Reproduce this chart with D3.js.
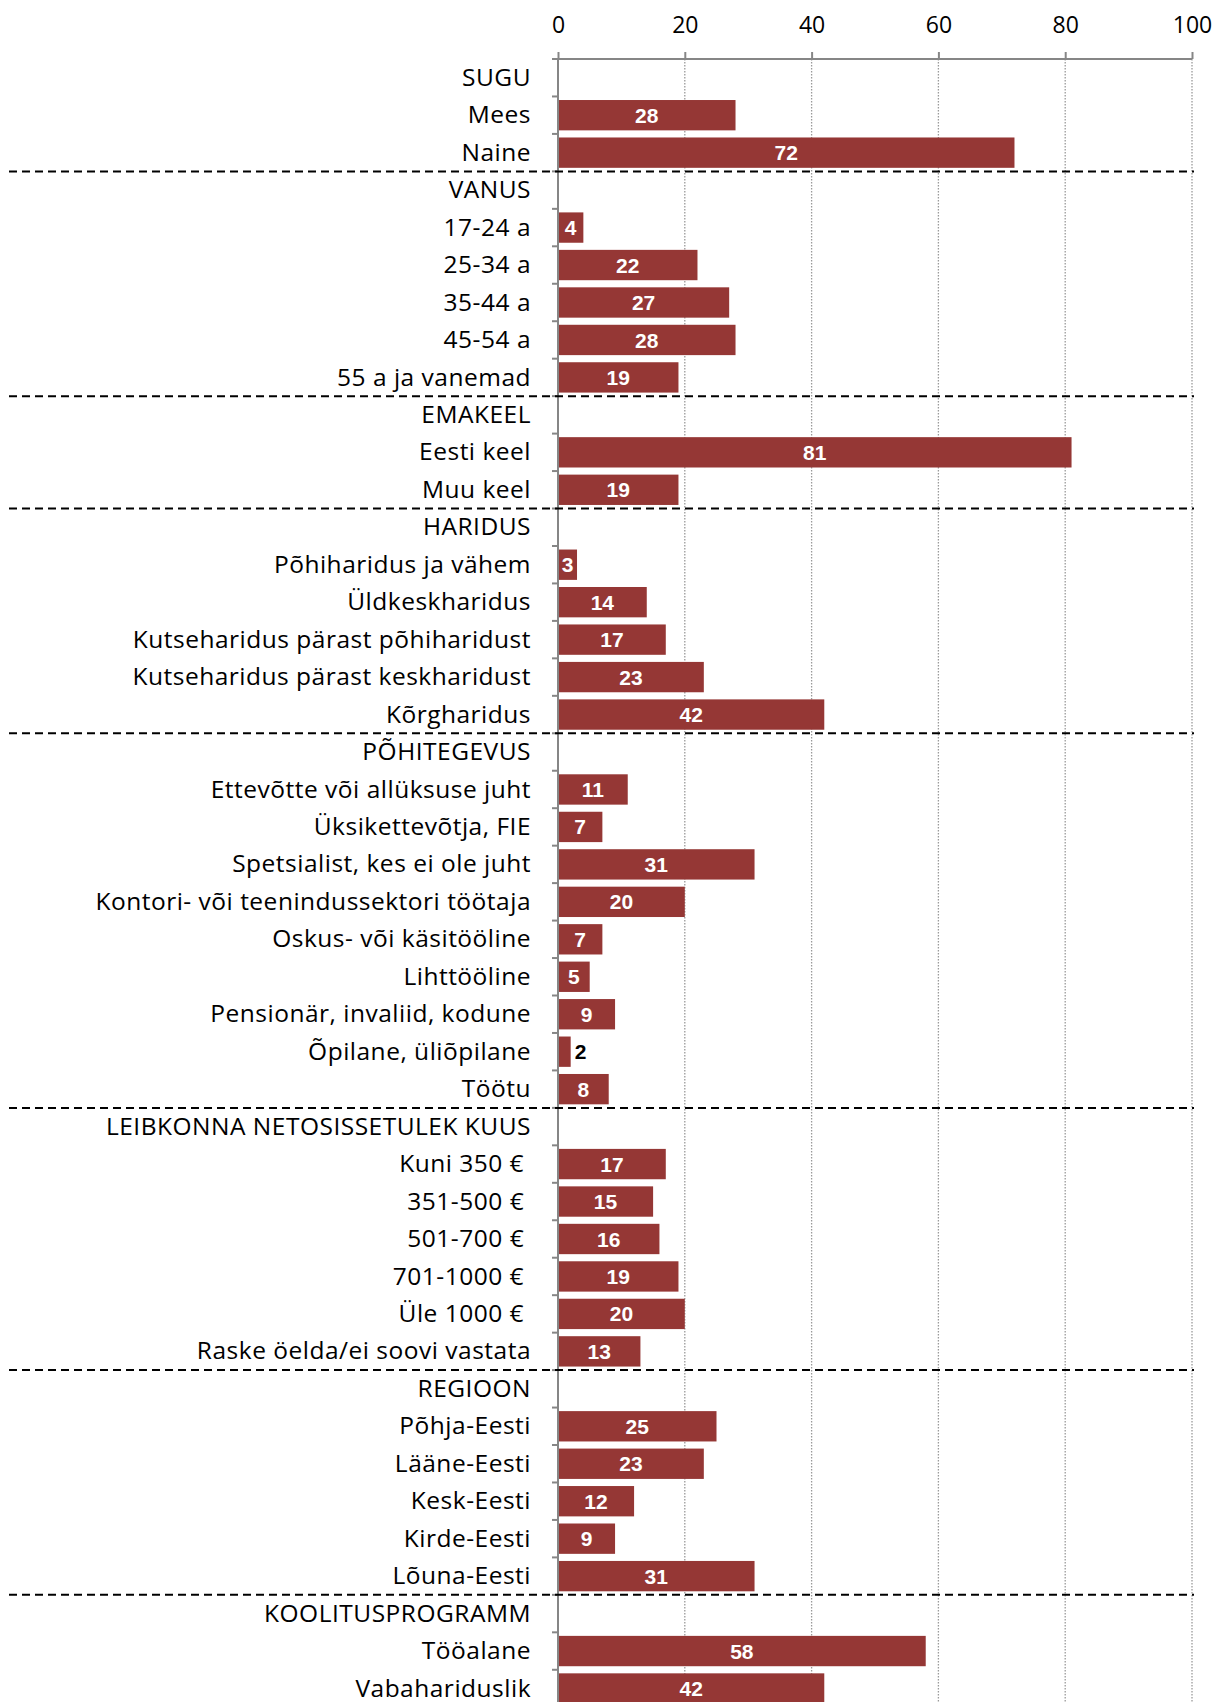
<!DOCTYPE html>
<html lang="et">
<head>
<meta charset="utf-8">
<title>Vastajate profiil</title>
<script src="https://d3js.org/d3.v7.min.js"></script>
<style>
  body { margin: 0; background: #fff; }
  #chart1 svg { display: block; }
  .cat-label { font-family: "Open Sans", "Noto Sans", sans-serif; font-size: 24.5px; letter-spacing: 0.5px; fill: #000; }
  .tick-label { font-family: "Open Sans", "Noto Sans", sans-serif; font-size: 23px; fill: #000; }
  .val-label { font-family: "Liberation Sans", Arial, sans-serif; font-size: 21px; font-weight: bold; }
</style>
</head>
<body>
<div id="chart1"></div>
<script>
// categories, top to bottom (group headers have no value)
const categories = [
  "SUGU", "Mees", "Naine",
  "VANUS", "17-24 a", "25-34 a", "35-44 a", "45-54 a", "55 a ja vanemad",
  "EMAKEEL", "Eesti keel", "Muu keel",
  "HARIDUS", "Põhiharidus ja vähem", "Üldkeskharidus", "Kutseharidus pärast põhiharidust",
  "Kutseharidus pärast keskharidust", "Kõrgharidus",
  "PÕHITEGEVUS", "Ettevõtte või allüksuse juht", "Üksikettevõtja, FIE", "Spetsialist, kes ei ole juht",
  "Kontori- või teenindussektori töötaja", "Oskus- või käsitööline", "Lihttööline",
  "Pensionär, invaliid, kodune", "Õpilane, üliõpilane", "Töötu",
  "LEIBKONNA NETOSISSETULEK KUUS", "Kuni 350 € ", "351-500 € ", "501-700 € ", "701-1000 € ",
  "Üle 1000 € ", "Raske öelda/ei soovi vastata",
  "REGIOON", "Põhja-Eesti", "Lääne-Eesti", "Kesk-Eesti", "Kirde-Eesti", "Lõuna-Eesti",
  "KOOLITUSPROGRAMM", "Tööalane", "Vabahariduslik"
];

const values = [
  null, 28, 72,
  null, 4, 22, 27, 28, 19,
  null, 81, 19,
  null, 3, 14, 17, 23, 42,
  null, 11, 7, 31, 20, 7, 5, 9, 2, 8,
  null, 17, 15, 16, 19, 20, 13,
  null, 25, 23, 12, 9, 31,
  null, 58, 42
];

const xTicks = [0, 20, 40, 60, 80, 100];

const data = categories.map((c, i) => ({ name: c, value: values[i] }));
const headerIdx = data.map((d, i) => d.value === null ? i : -1).filter(i => i > 0);

const margin = { top: 59, left: 558 };
const width = 634;
const rowH = 37.46;
const height = rowH * categories.length;

const svgRoot = d3.select("#chart1").append("svg")
  .attr("width", 1220)
  .attr("height", 1702);

const svg = svgRoot.append("g")
  .attr("transform", "translate(" + margin.left + "," + margin.top + ")");

const x = d3.scaleLinear().domain([0, 100]).range([0, width]);
const y = d3.scaleBand().domain(categories).range([0, height])
  .paddingInner(0.19).paddingOuter(0.095);

// gridlines (dotted)
svg.append("g").selectAll("line")
  .data(xTicks.filter(t => t > 0))
  .join("line")
  .attr("x1", d => x(d)).attr("x2", d => x(d))
  .attr("y1", 0).attr("y2", height)
  .attr("stroke", "#9a9a9a")
  .attr("stroke-width", 1.3)
  .attr("stroke-dasharray", "1.5,1.5");

// bars
svg.append("g").selectAll("rect")
  .data(data.filter(d => d.value !== null))
  .join("rect")
  .attr("x", 0)
  .attr("y", d => y(d.name))
  .attr("width", d => x(d.value))
  .attr("height", y.bandwidth())
  .attr("fill", "#953735");

// value labels
svg.append("g").selectAll("text")
  .data(data.filter(d => d.value !== null))
  .join("text")
  .attr("class", "val-label")
  .attr("x", d => d.value < 3 ? x(d.value) + 4 : x(d.value) / 2)
  .attr("y", d => y(d.name) + y.bandwidth() / 2)
  .attr("dy", "0.36em")
  .attr("text-anchor", d => d.value < 3 ? "start" : "middle")
  .attr("fill", d => d.value < 3 ? "#000" : "#fff")
  .text(d => d.value);

// y axis: labels, boundary ticks, line
const yAxis = d3.axisLeft(y).tickSize(0).tickPadding(27);
const yG = svg.append("g").call(yAxis);
yG.select(".domain").remove();
yG.selectAll(".tick text").attr("class", "cat-label").attr("font-size", null).attr("font-family", null)
  .attr("dy", "0.33em").style("white-space", "pre");

svg.append("g").selectAll("line")
  .data(d3.range(1, categories.length + 1))
  .join("line")
  .attr("x1", -6).attr("x2", 0)
  .attr("y1", d => d * y.step()).attr("y2", d => d * y.step())
  .attr("stroke", "#868686").attr("stroke-width", 2);

svg.append("line")
  .attr("x1", 0).attr("x2", 0)
  .attr("y1", 0).attr("y2", height)
  .attr("stroke", "#868686").attr("stroke-width", 2);

// top axis
const xAxis = d3.axisTop(x).tickValues(xTicks).tickSize(7).tickPadding(19).tickSizeOuter(0);
const xG = svg.append("g").call(xAxis);
xG.select(".domain").remove();
xG.selectAll(".tick line").attr("stroke", "#868686").attr("stroke-width", 2);
xG.selectAll(".tick text").attr("class", "tick-label").attr("font-size", null).attr("font-family", null);
svg.append("line")
  .attr("x1", -6).attr("x2", width)
  .attr("y1", 0).attr("y2", 0)
  .attr("stroke", "#868686").attr("stroke-width", 2);

// dashed group separators
svgRoot.append("g").selectAll("line")
  .data(headerIdx)
  .join("line")
  .attr("x1", 9).attr("x2", margin.left + width + 2)
  .attr("y1", d => margin.top + d * y.step())
  .attr("y2", d => margin.top + d * y.step())
  .attr("stroke", "#000")
  .attr("stroke-width", 2)
  .attr("stroke-dasharray", "8,5");
</script>
</body>
</html>
